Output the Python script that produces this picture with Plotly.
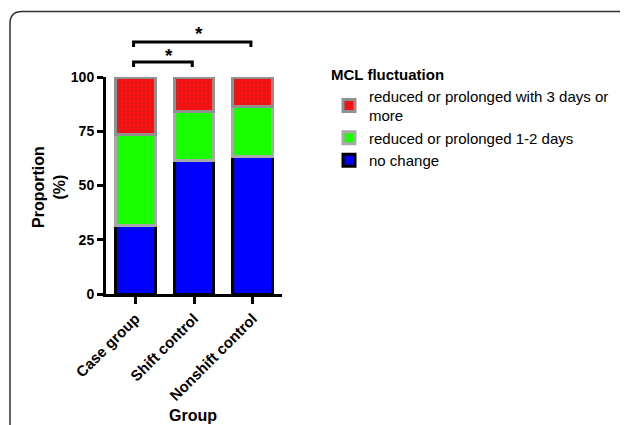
import plotly.graph_objects as go

groups = ["Case group", "Shift control", "Nonshift control"]
no_change = [31.5, 61.5, 63.5]
one_two_days = [42.0, 22.5, 23.0]
three_plus = [26.5, 16.0, 13.5]
series_names = ["no change", "reduced or prolonged 1-2 days",
                "reduced or prolonged with 3 days or<br>more"]
y_ticks = [0, 25, 50, 75, 100]
comparisons = [(0, 1, "*"), (0, 2, "*")]

FONT = "Arial, Liberation Sans, Helvetica, sans-serif"
OFF = 8  # default page body margin
FW, FH = 628 - OFF, 425 - OFF

fig = go.Figure()
fig.add_bar(x=groups, y=no_change, name=series_names[0],
            marker=dict(color="#0000ff", line=dict(color="black", width=3)),
            width=0.68)
fig.add_bar(x=groups, y=one_two_days, name=series_names[1],
            marker=dict(color="#1aff00", line=dict(color="#a8a8a8", width=3)),
            width=0.68)
fig.add_bar(x=groups, y=three_plus, name=series_names[2],
            marker=dict(color="#ff1010", line=dict(color="#909090", width=3),
                        pattern=dict(shape=".", fgcolor="#b82020", bgcolor="#ff1010",
                                     size=4, solidity=0.4)),
            width=0.68)

# plot area geometry in viewport pixels
L, R, T, B = 106, 282, 77, 294
W, H = R - L, B - T
def px(x): return (x - L) / W
def py(y): return (B - y) / H

shapes = []
annotations = []
# significance brackets: (bar y, end y, star y, star x shift)
levels = [(62, 67, 55, 0.1), (42, 47, 33, 0.12)]
for (a, b, lab), (yh, ye, ys, sx) in zip(comparisons, levels):
    xa, xb = a - 0.03, b - 0.03
    shapes.append(dict(type="path", xref="x", yref="paper",
                       path=f"M{xa},{py(ye)} L{xa},{py(yh)} L{xb},{py(yh)} L{xb},{py(ye)}",
                       line=dict(color="black", width=3)))
    annotations.append(dict(x=(xa + xb) / 2 + sx, y=py(ys), xref="x", yref="paper",
                            text=f"<b>{lab}</b>", showarrow=False,
                            xanchor="center", yanchor="middle",
                            font=dict(size=19, color="black", family=FONT)))

# frame with rounded corner
fl, ft, fr, fb, rad = 10, 11.5, 660, 450, 12
shapes.append(dict(type="path", xref="paper", yref="paper",
                   path=(f"M{px(fl)},{py(fb)} L{px(fl)},{py(ft+rad)} "
                         f"Q{px(fl)},{py(ft)} {px(fl+rad)},{py(ft)} L{px(fr)},{py(ft)}"),
                   line=dict(color="#333333", width=1.5)))

annotations.append(dict(x=px(49), y=py(187), xref="paper", yref="paper",
                        xanchor="center", yanchor="middle",
                        text="<b>Proportion<br>(%)</b>", textangle=-90, showarrow=False,
                        font=dict(size=16, color="black", family=FONT)))
annotations.append(dict(x=px(193), y=py(415), xref="paper", yref="paper",
                        xanchor="center", yanchor="middle",
                        text="<b>Group</b>", showarrow=False,
                        font=dict(size=16, color="black", family=FONT)))

fig.update_layout(
    barmode="stack",
    width=FW, height=FH,
    margin=dict(l=L - OFF, r=628 - R, t=T - OFF, b=425 - B, autoexpand=False),
    paper_bgcolor="white", plot_bgcolor="white",
    font=dict(family=FONT, color="black"),
    showlegend=True,
    legend=dict(x=px(329), y=py(60), xanchor="left", yanchor="top",
                traceorder="reversed",
                title=dict(text="<b>MCL fluctuation</b>", side="top",
                           font=dict(size=15, family=FONT, color="black")),
                font=dict(size=15, family=FONT, color="black"),
                tracegroupgap=0, itemwidth=30, bgcolor="rgba(0,0,0,0)"),
    shapes=shapes,
    annotations=annotations,
    xaxis=dict(range=[-0.5, 2.5], showline=True, linecolor="black", linewidth=3,
               ticks="outside", ticklen=7, tickwidth=3, tickcolor="black",
               tickangle=-45, showgrid=False, zeroline=False,
               tickfont=dict(size=15, family=FONT, color="black"),
               ticktext=[f"<b>{g}</b>" for g in groups], tickvals=groups),
    yaxis=dict(range=[0, 100], showline=True, linecolor="black", linewidth=3,
               ticks="outside", ticklen=6, tickwidth=3, tickcolor="black",
               tickvals=y_ticks, ticktext=[f"<b>{t}</b>" for t in y_ticks],
               showgrid=False, zeroline=False,
               tickfont=dict(size=14, family=FONT, color="black")),
)

fig.write_html("out.html")
